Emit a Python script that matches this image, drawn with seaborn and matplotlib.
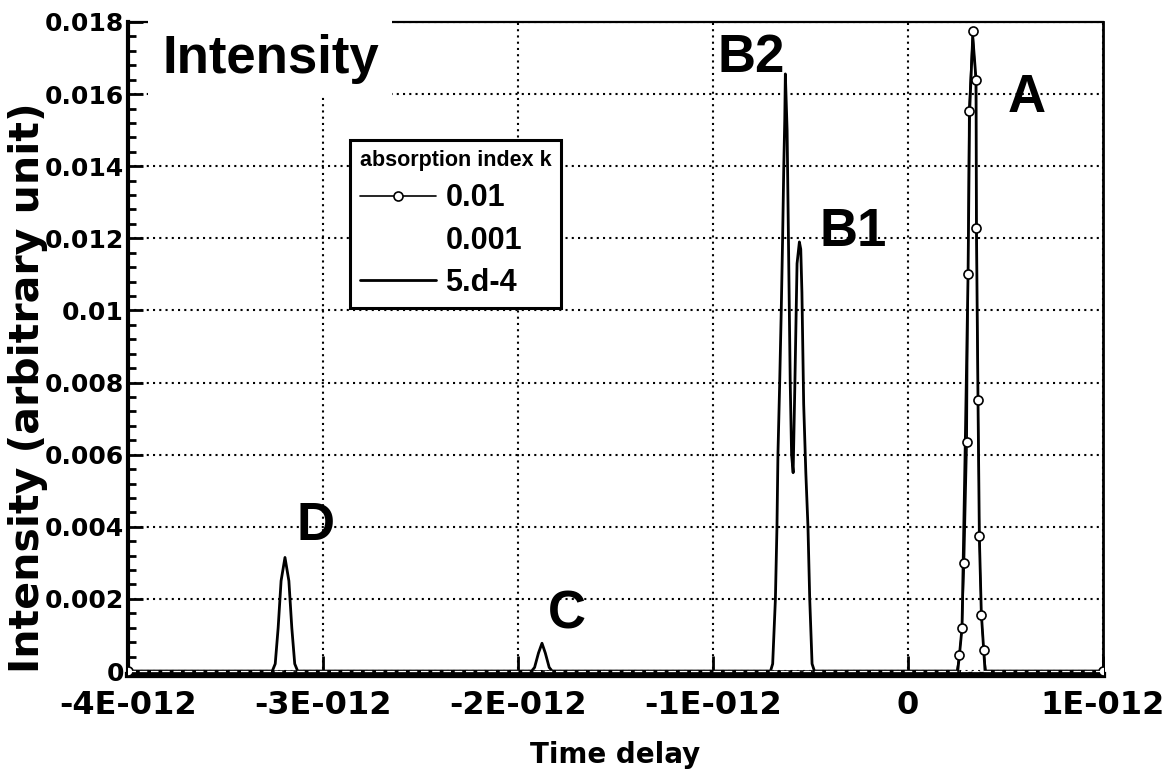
import numpy as np
import pandas as pd
import seaborn as sns
import matplotlib
matplotlib.use("Agg")
import matplotlib.pyplot as plt
from matplotlib.ticker import MultipleLocator, FixedLocator, FixedFormatter
from matplotlib.patches import Rectangle

sns.set_theme(style="ticks")
plt.rcParams['font.family'] = ['DejaVu Sans']
plt.rcParams['font.weight'] = 'bold'
for key in ["text.color", "axes.labelcolor", "xtick.color", "ytick.color", "axes.edgecolor"]:
    plt.rcParams[key] = "black"

PS = 1e-12  # time values below are in units of 1E-012

# k = 0.01 : only echo A is left
t_k01 = [-4.0, 0.25, 0.263, 0.277, 0.289, 0.303, 0.308, 0.312, 0.332, 0.347,
         0.351, 0.359, 0.366, 0.376, 0.388, 0.40, 1.0]
i_k01 = [0, 0, 0.00044, 0.00119, 0.0030, 0.00636, 0.01101, 0.01554, 0.01775,
         0.0164, 0.0123, 0.00752, 0.00374, 0.00155, 0.00058, 0, 0]
mark_k01 = [0] + list(range(2, 15)) + [16]

# k = 0.001 : drawn in white, only seen on the baseline
t_k001 = [-4.0, 1.0]
i_k001 = [0, 0]

# k = 5.d-4 : echoes D, C, B2/B1 and A
t_k5 = [-4.0, -3.26, -3.245, -3.23, -3.215, -3.195, -3.175, -3.16, -3.145, -3.13,
        -1.93, -1.915, -1.895, -1.877, -1.86, -1.84, -1.825,
        -0.705, -0.694, -0.680, -0.672, -0.667, -0.658, -0.650, -0.643, -0.637,
        -0.632, -0.629, -0.620, -0.612, -0.604, -0.597, -0.589, -0.580, -0.569,
        -0.557, -0.550, -0.544, -0.535, -0.524, -0.513, -0.504, -0.492, -0.480,
        0.255, 0.263, 0.277, 0.294, 0.308, 0.316, 0.332, 0.349, 0.351, 0.359,
        0.366, 0.376, 0.388, 0.395, 1.0]
i_k5 = [0, 0, 0.0002, 0.0012, 0.0025, 0.00315, 0.0025, 0.0012, 0.0002, 0,
        0, 0.0001, 0.0005, 0.00077, 0.0005, 0.0001, 0,
        0, 0.0002, 0.002, 0.004, 0.006, 0.008, 0.010, 0.012, 0.014,
        0.0153, 0.01656, 0.0150, 0.0115, 0.0080, 0.0060, 0.0055, 0.0080, 0.0113,
        0.0119, 0.0117, 0.0105, 0.0074, 0.0055, 0.0040, 0.0020, 0.0002, 0,
        0, 0.0004, 0.0012, 0.0064, 0.0110, 0.0155, 0.0176, 0.0164, 0.0123, 0.0075,
        0.0037, 0.0016, 0.0006, 0, 0]

x_ticks = [-4, -3, -2, -1, 0, 1]
x_tick_labels = ["-4E-012", "-3E-012", "-2E-012", "-1E-012", "0", "1E-012"]
y_ticks = [0, 0.002, 0.004, 0.006, 0.008, 0.01, 0.012, 0.014, 0.016, 0.018]
y_tick_labels = ["0", "0.002", "0.004", "0.006", "0.008", "0.01", "0.012",
                 "0.014", "0.016", "0.018"]

peak_names = ["A", "B1", "B2", "C", "D"]
peak_pos = [(0.9026, 0.862), (0.7097, 0.657), (0.605, 0.923), (0.431, 0.0707), (0.173, 0.207)]

fig = plt.figure(figsize=(11.66, 7.8), dpi=100)
ax = fig.add_axes([0.10978, 0.13462, 0.83619, 0.83718])

df5 = pd.DataFrame({"t": np.array(t_k5) * PS, "I": i_k5})
df01 = pd.DataFrame({"t": np.array(t_k01) * PS, "I": i_k01})
df001 = pd.DataFrame({"t": np.array(t_k001) * PS, "I": i_k001})

sns.lineplot(data=df5, x="t", y="I", ax=ax, color="black", lw=2.0,
             sort=False, estimator=None, label="5.d-4", zorder=3)
sns.lineplot(data=df01, x="t", y="I", ax=ax, color="black", lw=1.2,
             marker="o", ms=6.5, mfc="white", mec="black", mew=1.2,
             markevery=mark_k01, sort=False, estimator=None, label="0.01", zorder=4)
sns.lineplot(data=df001, x="t", y="I", ax=ax, color="white", lw=0.9,
             dashes=(6, 3), sort=False, estimator=None, label="0.001", zorder=5)

ax.set_xlim(-4 * PS, 1 * PS)
ax.set_ylim(-0.00011, 0.018)

ax.xaxis.set_major_locator(FixedLocator([v * PS for v in x_ticks]))
ax.xaxis.set_major_formatter(FixedFormatter(x_tick_labels))
ax.xaxis.set_minor_locator(MultipleLocator(0.2 * PS))
ax.yaxis.set_major_locator(FixedLocator(y_ticks))
ax.yaxis.set_major_formatter(FixedFormatter(y_tick_labels))
ax.yaxis.set_minor_locator(MultipleLocator(0.0004))

ax.tick_params(axis="both", which="both", direction="in", color="black",
               labelcolor="black", top=False, right=False)
ax.tick_params(axis="y", which="major", length=11, width=2, labelsize=18, pad=3)
ax.tick_params(axis="y", which="minor", length=6, width=2)
ax.tick_params(axis="x", which="major", length=14, width=2, labelsize=23, pad=11)
ax.tick_params(axis="x", which="minor", length=3, width=2)
for lab in ax.get_xticklabels() + ax.get_yticklabels():
    lab.set_fontweight("bold")

ax.grid(True, which="major", color="black", lw=1.5, ls=(0, (1, 2)))

for side, w in [("left", 3.0), ("bottom", 4.5), ("right", 2.0), ("top", 1.6)]:
    ax.spines[side].set_color("black")
    ax.spines[side].set_linewidth(w)

ax.set_xlabel("Time delay", fontsize=20, fontweight="bold", labelpad=14)
ax.set_ylabel("Intensity (arbitrary unit)", fontsize=29.5, fontweight="bold")
ax.yaxis.set_label_coords(-0.082, 0.44)

# white patch behind the big "Intensity" title
ax.add_patch(Rectangle((0.0205, 0.885), 0.2503, 0.14, transform=ax.transAxes,
                       facecolor="white", edgecolor="none", clip_on=False, zorder=6))
ax.text(0.035, 0.922, "Intensity", transform=ax.transAxes, ha="left", va="baseline",
        fontsize=38, fontweight="bold", family="Liberation Sans", zorder=7)

for name, (px, py) in zip(peak_names, peak_pos):
    ax.text(px, py, name, transform=ax.transAxes, ha="left", va="baseline",
            fontsize=38, fontweight="bold", family="Liberation Sans", zorder=7)

h, l = ax.get_legend_handles_labels()
order = [l.index("0.01"), l.index("0.001"), l.index("5.d-4")]
leg = ax.legend([h[i] for i in order], [l[i] for i in order],
                title="absorption index k", loc="upper left",
                bbox_to_anchor=(0.2277, 0.8187), borderaxespad=0,
                alignment="left", frameon=True, fancybox=False, framealpha=1,
                edgecolor="black", facecolor="white", numpoints=1,
                handlelength=2.5, handletextpad=0.3, labelspacing=0.4,
                borderpad=0.32,
                prop={"family": "Liberation Sans", "weight": "bold", "size": 22},
                title_fontproperties={"family": "Liberation Sans", "weight": "bold",
                                      "size": 15.5})
leg.get_frame().set_linewidth(2.2)
leg.set_zorder(8)

fig.savefig("out.png", dpi=100, facecolor="white")
